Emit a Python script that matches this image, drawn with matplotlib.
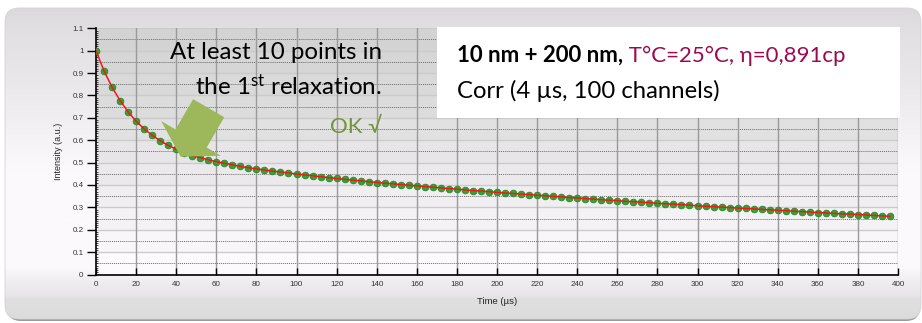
import numpy as np
import matplotlib
matplotlib.use("Agg")
import matplotlib.pyplot as plt
from matplotlib.patches import FancyBboxPatch, Rectangle, FancyArrow
from matplotlib.ticker import MultipleLocator
from matplotlib.colors import to_rgb

# ---- data: normalised correlation decay, 100 channels of 4 us ----
lag_us = np.arange(0, 400, 4)
intensity = [
    1.000, 0.910, 0.837, 0.777, 0.727, 0.685, 0.651, 0.622, 0.598, 0.577,
    0.560, 0.544, 0.531, 0.522, 0.513, 0.504, 0.497, 0.490, 0.483, 0.477,
    0.472, 0.467, 0.462, 0.458, 0.454, 0.449, 0.445, 0.441, 0.437, 0.433,
    0.429, 0.425, 0.422, 0.418, 0.415, 0.411, 0.408, 0.405, 0.402, 0.399,
    0.396, 0.393, 0.390, 0.387, 0.384, 0.381, 0.378, 0.375, 0.373, 0.370,
    0.367, 0.364, 0.362, 0.359, 0.357, 0.354, 0.352, 0.349, 0.347, 0.344,
    0.342, 0.339, 0.337, 0.334, 0.332, 0.330, 0.327, 0.325, 0.323, 0.321,
    0.318, 0.316, 0.314, 0.312, 0.310, 0.307, 0.305, 0.303, 0.301, 0.299,
    0.297, 0.295, 0.293, 0.291, 0.289, 0.287, 0.285, 0.283, 0.281, 0.279,
    0.277, 0.275, 0.273, 0.271, 0.270, 0.268, 0.266, 0.264, 0.262, 0.260,
]
x_ticks = list(range(0, 401, 20))
y_ticks = [0, 0.1, 0.2, 0.3, 0.4, 0.5, 0.6, 0.7, 0.8, 0.9, 1, 1.1]
y_tick_labels = ["0", "0.1", "0.2", "0.3", "0.4", "0.5", "0.6", "0.7", "0.8", "0.9", "1", "1.1"]

W, H = 922, 323
plt.rcParams["mathtext.fontset"] = "custom"
plt.rcParams["mathtext.rm"] = "Lato"
plt.rcParams["mathtext.it"] = "Lato:italic"
plt.rcParams["mathtext.bf"] = "Lato:bold"

fig = plt.figure(figsize=(W / 100, H / 100), dpi=100)
fig.patch.set_facecolor("white")


def fx(px):
    return px / W


def fy(py):
    return 1 - py / H


# ---- rounded panel behind everything ----
bg = fig.add_axes([0, 0, 1, 1], zorder=0)
bg.axis("off")

shadow = FancyBboxPatch((7, 11), 913, 310, boxstyle="round,pad=0,rounding_size=14",
                        fc="#9a9a9a", ec="none", zorder=0)
bg.add_patch(shadow)
panel = FancyBboxPatch((5, 8), 916, 311, boxstyle="round,pad=0,rounding_size=14",
                       fc="none", ec="#d4d4d4", lw=0.6, zorder=2)
bg.add_patch(panel)
stops = [(8, "#dcd9dd"), (28, "#e1dfe2"), (60, "#e6e4e7"), (100, "#edebee"),
         (140, "#f5f3f6"), (170, "#fbf9fc"), (268, "#fbf9fc"), (282, "#efedf0"),
         (296, "#e7e5e8"), (300, "#dfdfdf"), (319, "#dcdcdc")]
rows = np.arange(8, 320)
sy = [s[0] for s in stops]
cols = np.array([to_rgb(s[1]) for s in stops])
grad = np.stack([np.interp(rows, sy, cols[:, k]) for k in range(3)], axis=1)[:, None, :]
im = bg.imshow(grad, extent=(5, 921, 319, 8), aspect="auto",
               interpolation="bilinear", zorder=1)
im.set_clip_path(panel)
bg.set_xlim(0, W)
bg.set_ylim(H, 0)

# ---- main plot ----
ax = fig.add_axes([fx(96), fy(274.5), fx(898) - fx(96), fy(28.3) - fy(274.5)], zorder=1)
ax.set_facecolor("none")
ax.set_xlim(0, 400)
ax.set_ylim(0, 1.1)

band_colors = ["#fcfafc", "#f8f6f9", "#f4f2f5", "#f0eef1", "#ece9ed", "#e7e5e8",
               "#e1e1e1", "#dcdcdc", "#d9d9d9", "#d6d6d6", "#d3d3d3"]
for i, c in enumerate(band_colors):
    ax.axhspan(i * 0.1, (i + 1) * 0.1, color=c, lw=0, zorder=0)

for yv in y_ticks[1:]:
    ax.axhline(yv, color="#cbcbcb", lw=1.0, zorder=1)
for yv in np.arange(0.05, 1.1, 0.1):
    ax.axhline(yv, color="#6a6a6a", lw=0.7, ls=(0, (1, 1)), zorder=1)
for xv in x_ticks[1:]:
    ax.axvline(xv, color="#9a9a9a", lw=1.0, zorder=1)

ax.plot(lag_us, intensity, ls="none", marker="o", ms=4.8,
        mfc="#36a236", mec="#25882a", mew=0.6, zorder=3)
ax.plot(lag_us, intensity, color="#f01818", lw=1.1, zorder=4)

for s in ["top", "right"]:
    ax.spines[s].set_visible(False)
for s in ["left", "bottom"]:
    ax.spines[s].set_color("black")
    ax.spines[s].set_linewidth(1.2)

ax.set_xticks(x_ticks)
ax.set_xticklabels([str(v) for v in x_ticks])
ax.set_yticks(y_ticks)
ax.set_yticklabels(y_tick_labels)
ax.yaxis.set_minor_locator(MultipleLocator(0.01))
ax.tick_params(axis="x", which="major", direction="in", length=5, width=1.0,
               pad=5, labelsize=5.8, labelcolor="#333333")
ax.tick_params(axis="y", which="major", direction="out", length=6.5, width=1.0,
               pad=2.5, labelsize=5.8, labelcolor="#333333")
ax.tick_params(axis="y", which="minor", direction="in", length=1.5, width=0.5)
for lab in ax.get_xticklabels() + ax.get_yticklabels():
    lab.set_fontfamily("Liberation Sans")

fig.text(fx(497), fy(301), "Time (µs)", ha="center", va="center",
         fontsize=6.8, family="Liberation Sans", color="#222222")
fig.text(fx(58), fy(151), "Intensity (a.u.)", ha="center", va="center",
         rotation=90, fontsize=6.5, family="Liberation Sans", color="#222222")

# ---- overlay: text box, callout text and arrow ----
fg = fig.add_axes([0, 0, 1, 1], zorder=3)
fg.set_xlim(0, W)
fg.set_ylim(H, 0)
fg.axis("off")
fg.patch.set_alpha(0)

fg.add_patch(Rectangle((437, 27), 463, 91, fc="white", ec="none"))

t1 = fg.text(457, 61.5, "10 nm + 200 nm,", fontsize=16, family="Lato",
             weight="bold", color="black", va="baseline", ha="left")
fig.canvas.draw()
r = fig.canvas.get_renderer()
bb = t1.get_window_extent(renderer=r)
x_end = bb.x1 * W / fig.bbox.width
fg.text(x_end, 61.5, " T°C=25°C, η=0,891cp", fontsize=16, family=["Lato", "DejaVu Sans"],
        color="#9b0a50", va="baseline", ha="left")
fg.text(457, 98, "Corr (4 µs, 100 channels)", fontsize=17.2, family="Lato",
        color="black", va="baseline", ha="left")

csz = 17.4
fg.text(382, 59, "At least 10 points in", fontsize=csz, family="Lato",
        color="black", va="baseline", ha="right")
fg.text(382, 95, r"the 1$^{\mathrm{st}}$ relaxation.", fontsize=csz, family="Lato",
        color="black", va="baseline", ha="right")
fg.text(382, 133, "OK √", fontsize=16, family=["Lato", "DejaVu Sans"],
        color="#77933c", va="baseline", ha="right")

d = np.array([-0.50, 0.86])
d = d / np.linalg.norm(d)
tail = np.array([208.7, 108.2])
L = 56
fg.add_patch(FancyArrow(tail[0], tail[1], d[0] * L, d[1] * L, width=36, head_width=69,
                        head_length=21, length_includes_head=True,
                        fc="#9cb85a", ec="none"))

fig.savefig("out.png", dpi=100)
